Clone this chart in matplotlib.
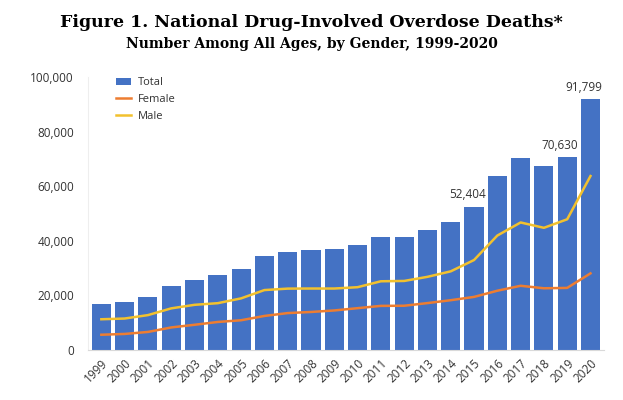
import numpy as np
import matplotlib.pyplot as plt
from matplotlib.ticker import FuncFormatter

years = [str(y) for y in range(1999, 2021)]
total = [16849, 17415, 19394, 23518, 25785, 27424, 29813, 34425, 36010, 36450, 37004,
         38329, 41340, 41502, 43982, 47055, 52404, 63632, 70237, 67367, 70630, 91799]
female = [5591, 5883, 6613, 8264, 9237, 10269, 10898, 12473, 13524, 13931, 14488,
          15323, 16166, 16210, 17183, 18243, 19447, 21713, 23523, 22610, 22749, 28071]
male = [11258, 11532, 12781, 15254, 16548, 17155, 18915, 21952, 22486, 22519, 22516,
        23006, 25174, 25292, 26799, 28812, 32957, 41919, 46714, 44757, 47881, 63728]
labeled = ['2015', '2019', '2020']

txt = '#333333'
fig = plt.figure(figsize=(6.23, 4.0), dpi=100)
ax = fig.add_axes([0.141, 0.125, 0.8285, 0.6825])

x = np.arange(len(years))
bars = ax.bar(x, total, width=0.82, color='#4472C4', label='Total', zorder=2)
lf, = ax.plot(x, female, color='#ED7D31', lw=1.8, label='Female', zorder=3)
lm, = ax.plot(x, male, color='#F2C12E', lw=1.8, label='Male', zorder=3)

# data labels sit a little left of the bar centre, as in the original
for i, y in enumerate(years):
    if y in labeled:
        ax.annotate(f'{total[i]:,}', (x[i], total[i]), xytext=(-5, 4),
                    textcoords='offset points', ha='center', va='bottom',
                    fontsize=8.5, color=txt, family='Open Sans')

ax.set_xlim(-0.58, len(years) - 0.42)
ax.set_ylim(0, 100000)
ax.set_yticks(range(0, 100001, 20000))
ax.yaxis.set_major_formatter(FuncFormatter(lambda v, p: f'{int(v):,}'))
ax.set_xticks(x)
ax.set_xticklabels(years, rotation=45, ha='right', rotation_mode='anchor')
ax.tick_params(length=0, labelsize=8.5, labelcolor=txt)
ax.tick_params(axis='y', pad=10)
ax.tick_params(axis='x', pad=5)
for lab in ax.get_xticklabels() + ax.get_yticklabels():
    lab.set_family('Open Sans')

for s in ['top', 'right']:
    ax.spines[s].set_visible(False)
ax.spines['left'].set_color('#EEEEEE')
ax.spines['bottom'].set_color('#D9D9D9')

ax.legend([bars, lf, lm], ['Total', 'Female', 'Male'], loc='upper left',
          bbox_to_anchor=(0.035, 1.035), frameon=False,
          prop={'family': 'Open Sans', 'size': 8}, labelcolor=txt,
          handlelength=1.4, handleheight=0.6, labelspacing=0.5, handletextpad=0.6)

fig.text(0.5, 0.943, 'Figure 1. National Drug-Involved Overdose Deaths*',
         ha='center', va='center', family='DejaVu Serif', weight='bold', fontsize=12.5)
fig.text(0.5, 0.89, 'Number Among All Ages, by Gender, 1999-2020',
         ha='center', va='center', family='DejaVu Serif', weight='bold', fontsize=10)

fig.savefig('out.png', dpi=100)
